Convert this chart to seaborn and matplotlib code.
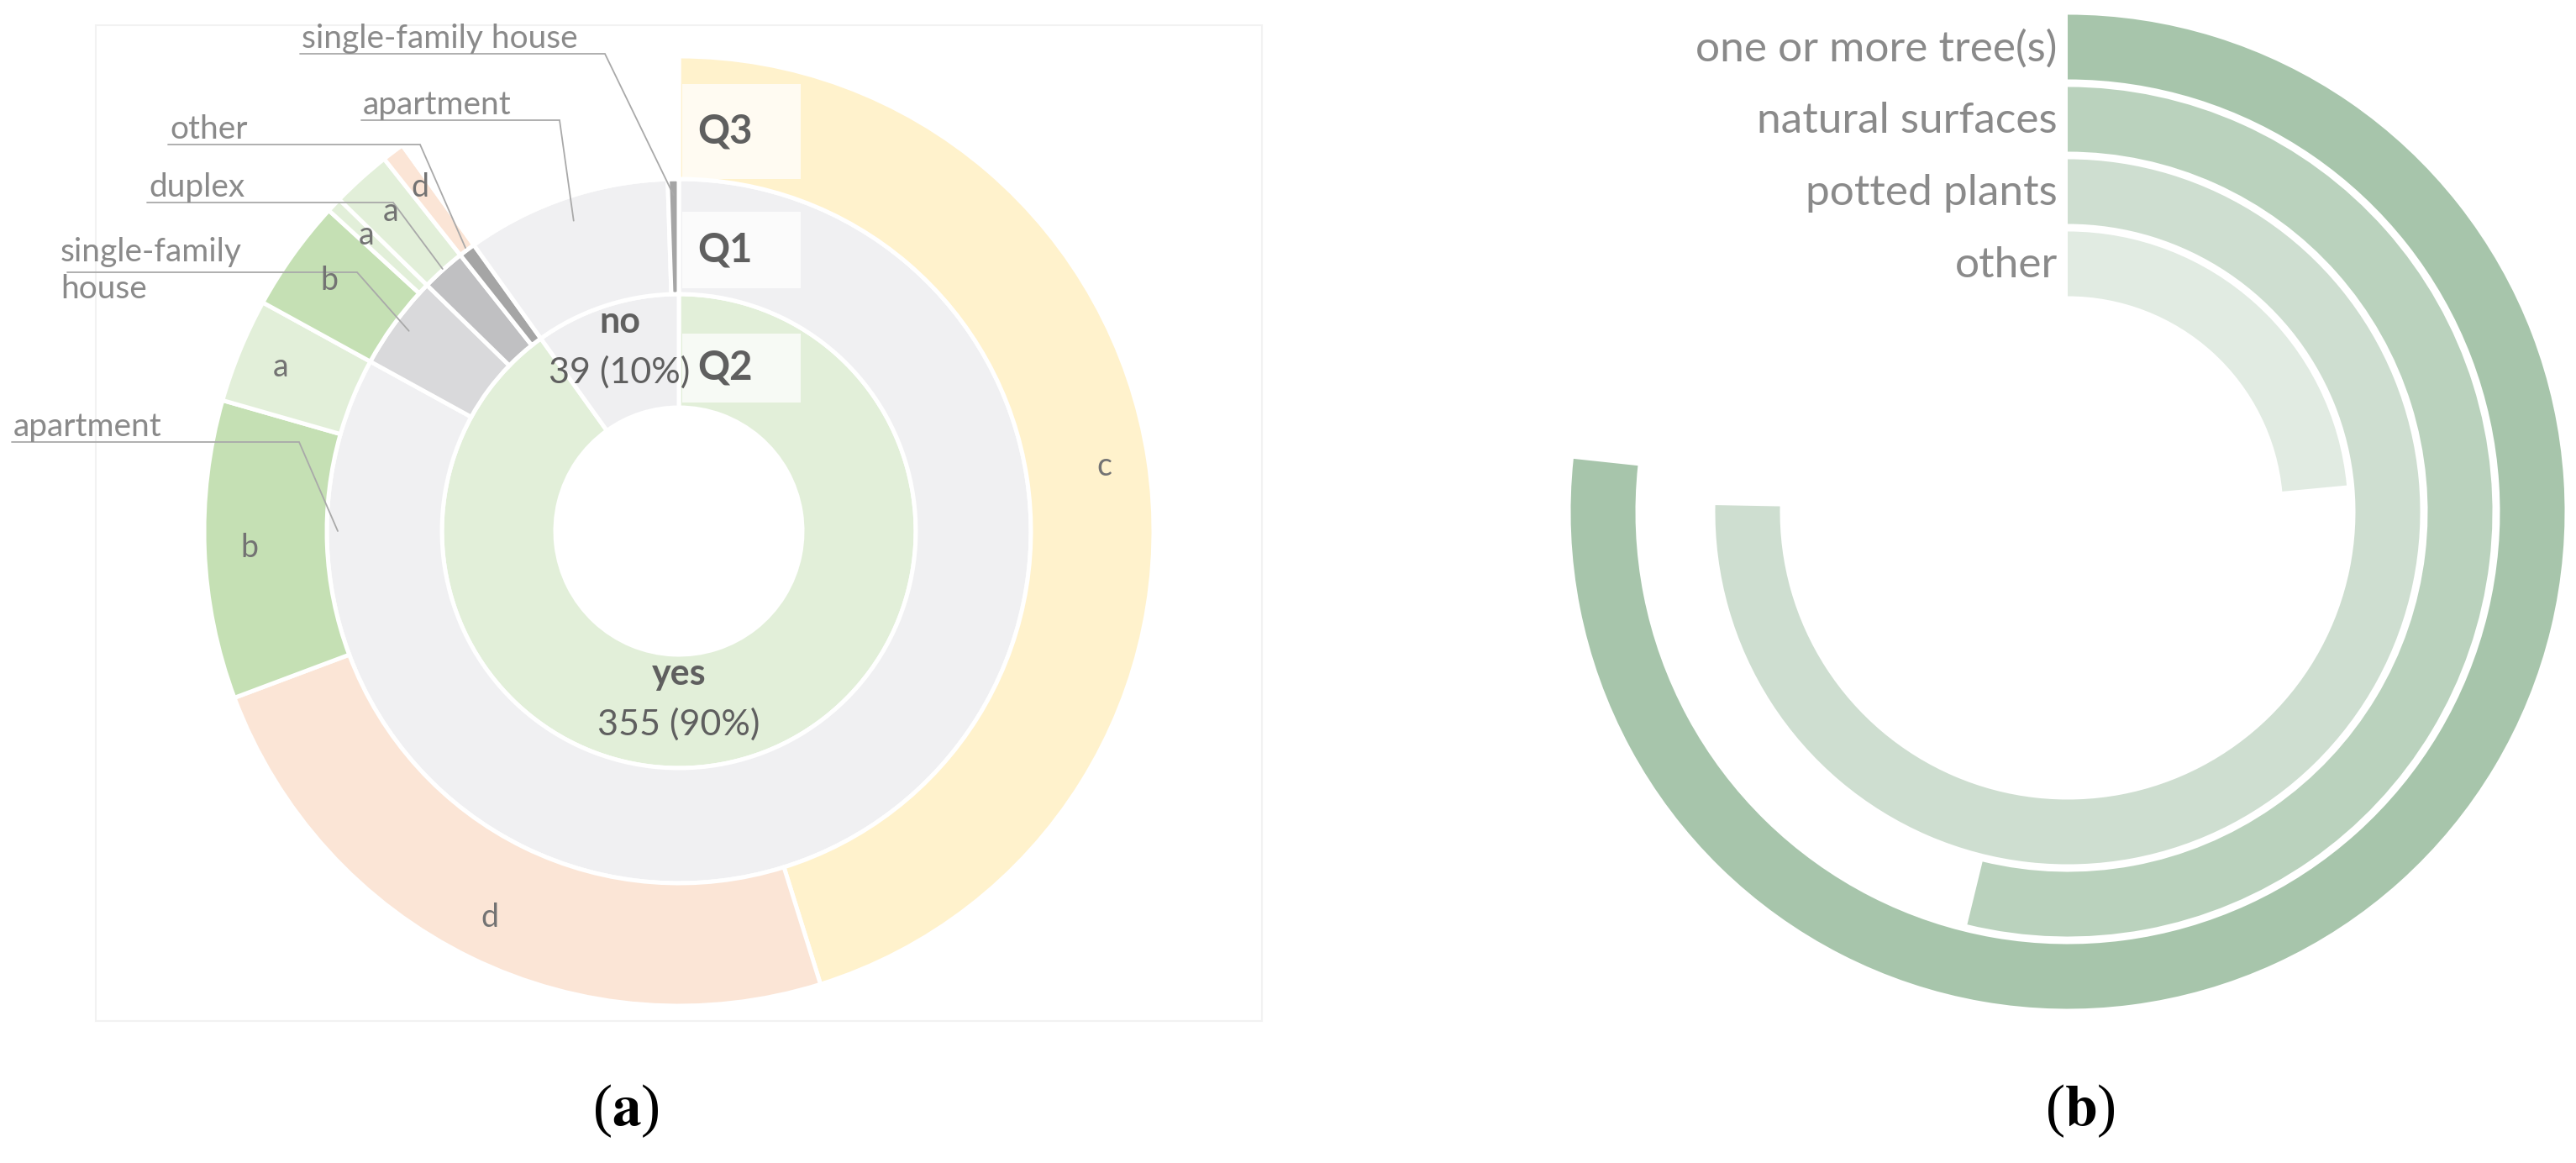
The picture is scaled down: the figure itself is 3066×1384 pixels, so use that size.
import numpy as np
import matplotlib
matplotlib.use("Agg")
import matplotlib.pyplot as plt
import seaborn as sns
from matplotlib.patches import Rectangle

sns.set_theme(style="white")
plt.rcParams['font.family'] = ['Lato', 'DejaVu Sans']
plt.rcParams['mathtext.fontset'] = 'stix'

# ---------------- panel (a): nested survey answers ----------------
# Q2 (inner ring)
q2_labels = ['yes', 'no']
q2_counts = [355, 39]

# Q1 (middle ring), clockwise, grouped under Q2
q1_labels = ['apartment', 'single-family house', 'duplex', 'other',
             'apartment', 'single-family house']
q1_counts = [327, 17, 8, 3, 37, 2]

# Q3 (outer ring), only answered by the "yes" group
q3_labels = ['c', 'd', 'b', 'a', 'b', 'a', 'a', 'd']
q3_counts = [178, 95, 40, 14, 15, 2, 8, 3]

# ---------------- panel (b): radial bars ----------------
green_labels = ['one or more tree(s)', 'natural surfaces', 'potted plants', 'other']
green_share = [76.7, 53.8, 75.3, 23.5]   # percent of a full turn

# colours
q2_colors = ['#e2efd9', '#efeff1']
q1_colors = ['#f0f0f2', '#d9d9db', '#c0c0c2', '#a5a5a5', '#f0f0f2', '#a5a5a5']
q3_cmap = {'a': '#e2efd9', 'b': '#c5e0b4', 'c': '#fff2cc', 'd': '#fbe5d6'}
green_colors = sns.blend_palette(['#a7c5ab', '#e1ebe2'], 4)

label_grey = '#8a8a8a'
dark_grey = '#5f5f5f'
line_grey = '#a9a9a9'

W, H = 3066, 1384
fig = plt.figure(figsize=(W / 100, H / 100), dpi=100)

# ---------- left panel ----------
axL = fig.add_axes([0, 0, 0.5, 1])
cx, cy = 808, H - 632
r_hole, r2, r1, r3 = 147, 282, 419, 565
wp = dict(edgecolor='white', linewidth=3.6)

axL.pie(q2_counts, radius=r2, center=(cx, cy), startangle=90, counterclock=False,
        colors=q2_colors, wedgeprops=dict(width=r2 - r_hole, **wp))
axL.pie(q1_counts, radius=r1, center=(cx, cy), startangle=90, counterclock=False,
        colors=q1_colors, wedgeprops=dict(width=r1 - r2, **wp))
outer_vals = q3_counts + [q2_counts[1]]
outer_cols = [q3_cmap[k] for k in q3_labels] + ['none']
axL.pie(outer_vals, radius=r3, center=(cx, cy), startangle=90, counterclock=False,
        colors=outer_cols, wedgeprops=dict(width=r3 - r1, **wp))

total = sum(q2_counts)


def mid_angles(vals):
    c = np.cumsum([0] + list(vals)) * 360.0 / total
    return (c[:-1] + c[1:]) / 2


def pt(angle, r):
    a = np.deg2rad(angle)
    return cx + r * np.sin(a), cy + r * np.cos(a)


# letters in the outer ring
for lab, ang in zip(q3_labels, mid_angles(q3_counts)):
    x, y = pt(ang, 512)
    axL.text(x, y, lab, ha='center', va='center', fontsize=27, color='#737373')

# yes / no labels
q1_mid = mid_angles(q1_counts)
q2_anchor = [(180, 200), (mid_angles(q2_counts)[1], 230)]
for lab, n, (ang, r) in zip(q2_labels, q2_counts, q2_anchor):
    x, y = pt(ang, r)
    axL.text(x, y + 30, lab, ha='center', va='center', fontsize=31,
             fontweight='bold', color=dark_grey)
    axL.text(x, y - 30, f"{n} ({n / total:.0%})", ha='center', va='center',
             fontsize=31, color=dark_grey)

# leader labels for Q1 categories: text, x start, line y, line x end, target angle, target r
leaders = [
    ('single-family house', 357, 64, 720, q1_mid[5], 400),
    ('apartment', 430, 143, 666, q1_mid[4], 390),
    ('other', 200, 172, 500, q1_mid[3], 422),
    ('duplex', 175, 241, 468, q1_mid[2], 420),
    ('single-family\nhouse', 80, 324, 425, q1_mid[1], 400),
    ('apartment', 14, 526, 356, 270, 406),
]
for txt, x0, ly, x1, ang, r in leaders:
    tx, ty = pt(ang, r)
    axL.plot([x0, x1, tx], [H - ly, H - ly, ty], color=line_grey, lw=1.3,
             solid_joinstyle='miter')
    if '\n' in txt:
        axL.text(x0 - 8, H - ly + 2, txt, ha='left', va='center', fontsize=28,
                 color=label_grey, linespacing=1.3)
    else:
        axL.text(x0 + 2, H - ly + 7, txt, ha='left', va='baseline', fontsize=28,
                 color=label_grey)

# question tags next to 12 o'clock
q_tags = [('Q3', 100, 213), ('Q1', 252, 343), ('Q2', 397, 479)]
for tag, top, bot in q_tags:
    axL.add_patch(Rectangle((812, H - bot), 141, bot - top, facecolor='white',
                            edgecolor='none', alpha=0.75))
    axL.text(830, H - (top + bot) / 2, tag, ha='left', va='center', fontsize=34,
             fontweight='bold', color=dark_grey)

# faint frame
axL.add_patch(Rectangle((114, H - 1215), 1388, 1185, fill=False,
                        edgecolor='#f2f2f2', lw=1.5))

axL.set_xlim(0, W / 2)
axL.set_ylim(0, H)
axL.set_aspect('equal')
axL.axis('off')

# ---------- right panel: radial bars ----------
R = 600
rcx, rcy = 2461, H - 609
axR = fig.add_axes([(rcx - R) / W, (rcy - R) / H, 2 * R / W, 2 * R / H],
                   projection='polar')
axR.set_theta_zero_location('N')
axR.set_theta_direction(-1)
radii = 553 - 86 * np.arange(len(green_labels))
axR.barh(radii, np.deg2rad(np.array(green_share) * 3.6), left=0, height=77,
         color=green_colors, edgecolor='none')
for lab, r in zip(green_labels, radii):
    axR.annotate(lab, xy=(0, r), xytext=(-12, -2), textcoords='offset pixels',
                 ha='right', va='center', fontsize=37, color=label_grey)
axR.set_ylim(0, R)
axR.axis('off')

# panel captions
fig.text(745 / W, 1 - 1322 / H, r'($\mathbf{a}$)', ha='center', va='center',
         fontsize=50, family='Liberation Serif', color='black')
fig.text(2476 / W, 1 - 1322 / H, r'($\mathbf{b}$)', ha='center', va='center',
         fontsize=50, family='Liberation Serif', color='black')

fig.savefig('out.png', dpi=100)
